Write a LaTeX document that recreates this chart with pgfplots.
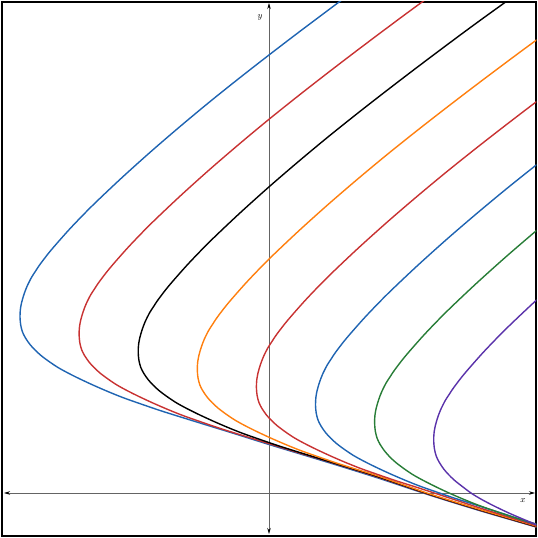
\documentclass[border=0pt]{standalone}
\usepackage{pgfplots}
\pgfplotsset{compat=1.18}
\usetikzlibrary{arrows.meta}
\definecolor{cblue}{RGB}{31,100,178}
\definecolor{cred}{RGB}{200,50,50}
\definecolor{corange}{RGB}{255,127,14}
\definecolor{cgreen}{RGB}{40,125,55}
\definecolor{cpurple}{RGB}{90,50,170}
\definecolor{axgray}{RGB}{100,100,100}
\begin{document}
\begin{tikzpicture}
\begin{axis}[
  x=1pt, y=1pt,
  xmin=-267.3, xmax=267.3, ymin=-43.3, ymax=491.3,
  xtick=\empty, ytick=\empty,
  axis line style={line width=2pt, black},
  clip=true,
  cv/.style={line width=1.4pt, smooth, tension=0.5},
]
\draw[axgray, line width=0.8pt, {Stealth[length=6pt,width=3.5pt,color=black]}-{Stealth[length=6pt,width=3.5pt,color=black]}] (axis cs:-265,0) -- (axis cs:266,0);
\draw[axgray, line width=0.8pt, {Stealth[length=6pt,width=3.5pt,color=black]}-{Stealth[length=6pt,width=3.5pt,color=black]}] (axis cs:0,-41) -- (axis cs:0,490);
\node[font=\small] at (axis cs:-9,476) {$y$};
\node[font=\small] at (axis cs:254,-8) {$x$};
% curve 1 blue
\addplot[cv, cblue] coordinates {
(140,541.5) (119,526.6) (94,508.6) (69,490.2) (31,461.7) (0,438) (-29,415.4) (-59,391.4) (-88,367.3) (-118,341.5) (-148,314.5) (-177,287) (-198,265.4) (-213,248.6) (-221,239.1) (-229,228.6) (-233,222.6) (-237.5,215.6) (-242,206.6) (-245,198.7) (-247.3,190.8) (-248.6,183.8) (-249,176) (-248.3,168) (-246.5,161) (-243.5,155) (-239,148.5) (-234,143) (-228,137.5) (-220,131.5) (-211,125.5) (-201,120) (-189,114) (-175,107.5) (-160,101) (-145,95) (-128,89) (-109,82.5) (-90,76.5) (-69,70) (-35,59.5) (0,48.5) (61,30) (109,15) (161,-2.2) (211,-17.7) (267,-34) (300,-44.3)
};
% curve 2 red
\addplot[cv, cred] coordinates {
(199.1,523.9) (178.1,509) (153.1,491) (128.1,472.6) (90.1,444.1) (59.1,420.4) (30.1,397.8) (0.1,373.8) (-28.9,349.7) (-58.9,323.9) (-88.9,296.9) (-117.9,269.4) (-138.9,247.8) (-153.9,231) (-161.9,221.5) (-169.9,211) (-173.9,205) (-178.4,198) (-182.9,189) (-185.9,181.1) (-188.2,173.2) (-189.5,166.2) (-189.9,158.4) (-189.2,150.4) (-187.4,143.4) (-184.4,137.4) (-179.9,130.9) (-174.9,125.4) (-168.9,119.9) (-160.9,113.9) (-151.9,107.9) (-141.9,102.4) (-129.9,96.4) (-115.9,89.9) (-100.9,83.4) (-85.9,77.4) (-68.9,71.4) (-49.9,64.9) (-30.9,58.9) (-9.9,52.4) (24.1,41.9) (59.1,31.4) (109,15.8) (161,-1.8) (211,-17.3) (267,-33.8) (300,-43.8)
};
% curve 3 black
\addplot[cv, black] coordinates {
(258.2,506.3) (237.2,491.4) (212.2,473.4) (187.2,455) (149.2,426.5) (118.2,402.8) (89.2,380.2) (59.2,356.2) (30.2,332.1) (0.2,306.3) (-29.8,279.3) (-58.8,251.8) (-79.8,230.2) (-94.8,213.4) (-102.8,203.9) (-110.8,193.4) (-114.8,187.4) (-119.3,180.4) (-123.8,171.4) (-126.8,163.5) (-129.1,155.6) (-130.4,148.6) (-130.8,140.8) (-130.1,132.8) (-128.3,125.8) (-125.3,119.8) (-120.8,113.3) (-115.8,107.8) (-109.8,102.3) (-101.8,96.3) (-92.8,90.3) (-82.8,84.8) (-70.8,78.8) (-56.8,72.3) (-41.8,65.8) (-26.8,59.8) (-9.8,53.8) (9.2,47.3) (28.2,41.3) (49.2,34.8) (83.2,24.3) (109,16.3) (161,-1.5) (211,-17) (267,-33.5) (300,-43.5)
};
% curve 4 orange
\addplot[cv, corange] coordinates {
(271.3,455.8) (246.3,437.4) (208.3,408.9) (177.3,385.2) (148.3,362.6) (118.3,338.6) (89.3,314.5) (59.3,288.7) (29.3,261.7) (0.3,234.2) (-20.7,212.6) (-35.7,195.8) (-43.7,186.3) (-51.7,175.8) (-55.7,169.8) (-60.2,162.8) (-64.7,153.8) (-67.7,145.9) (-70,138) (-71.3,131) (-71.7,123.2) (-71,115.2) (-69.2,108.2) (-66.2,102.2) (-61.7,95.7) (-56.7,90.2) (-50.7,84.7) (-42.7,78.7) (-33.7,72.7) (-23.7,67.2) (-11.7,61.2) (2.3,54.7) (17.3,48.2) (32.3,42.2) (49.3,36.2) (68.3,29.7) (87.3,23.7) (109,17) (161,-1) (211,-16.5) (267,-33) (300,-43)
};
% curve 5 red
\addplot[cv, cred] coordinates {
(305.4,419.8) (267.4,391.3) (236.4,367.6) (207.4,345) (177.4,321) (148.4,296.9) (118.4,271.1) (88.4,244.1) (59.4,216.6) (38.4,195) (23.4,178.2) (15.4,168.7) (7.4,158.2) (3.4,152.2) (-1.1,145.2) (-5.6,136.2) (-8.6,128.3) (-10.9,120.4) (-12.2,113.4) (-12.6,105.6) (-11.9,97.6) (-10.1,90.6) (-7.1,84.6) (-2.6,78.1) (2.4,72.6) (8.4,67.1) (16.4,61.1) (25.4,55.1) (35.4,49.6) (47.4,43.6) (61.4,37.1) (76.4,30.6) (91.4,24.6) (108.4,18.6) (127.4,12.1) (146.4,6.1) (175,-3.2) (211,-15) (267,-32.5) (300,-42.5)
};
% curve 6 blue
\addplot[cv, cblue] coordinates {
(326.5,373.7) (295.5,350) (266.5,327.4) (236.5,303.4) (207.5,279.3) (177.5,253.5) (147.5,226.5) (118.5,199) (97.5,177.4) (82.5,160.6) (74.5,151.1) (66.5,140.6) (62.5,134.6) (58,127.6) (53.5,118.6) (50.5,110.7) (48.2,102.8) (46.9,95.8) (46.5,88) (47.2,80) (49,73) (52,67) (56.5,60.5) (61.5,55) (67.5,49.5) (75.5,43.5) (84.5,37.5) (94.5,32) (106.5,26) (120.5,19.5) (135.5,13) (150.5,7) (167.5,1) (186.5,-5.5) (205.5,-11.5) (236,-21.3) (267,-31.5) (300,-41.5)
};
% curve 7 green
\addplot[cv, cgreen] coordinates {
(354.6,332.4) (325.6,309.8) (295.6,285.8) (266.6,261.7) (236.6,235.9) (206.6,208.9) (177.6,181.4) (156.6,159.8) (141.6,143) (133.6,133.5) (125.6,123) (121.6,117) (117.1,110) (112.6,101) (109.6,93.1) (107.3,85.2) (106,78.2) (105.6,70.4) (106.3,62) (108.1,54.8) (111.1,48.6) (115.6,42) (120.6,36.3) (126.6,30.7) (134.6,24.6) (143.6,18.5) (153.6,12.9) (165.6,6.8) (179.6,0.2) (194.6,-6.3) (209.6,-12.3) (226.6,-18.3) (245.6,-24.6) (264.6,-30.3) (285.6,-36.6)
};
% curve 8 purple
\addplot[cv, cpurple] coordinates {
(354.7,268.2) (325.7,244.1) (295.7,218.3) (265.7,191.3) (236.7,163.8) (215.7,142.2) (200.7,125.4) (192.7,115.9) (184.7,105.4) (180.7,99.4) (176.2,92.4) (171.7,83.4) (168.7,75.6) (166.4,67.6) (165.1,60.6) (164.7,52.8) (165.4,44.3) (167.2,37) (170.2,30.8) (174.7,24) (179.7,18.3) (185.7,12.5) (193.7,6.2) (202.7,-0.5) (212.7,-6.5) (224.7,-12.8) (238.7,-19.5) (253.7,-26) (268.7,-32) (290,-38.5)
};
\end{axis}
\path ([shift={(-1.7pt,-1.7pt)}]current axis.south west) rectangle ([shift={(1.7pt,1.7pt)}]current axis.north east);
\end{tikzpicture}
\end{document}
